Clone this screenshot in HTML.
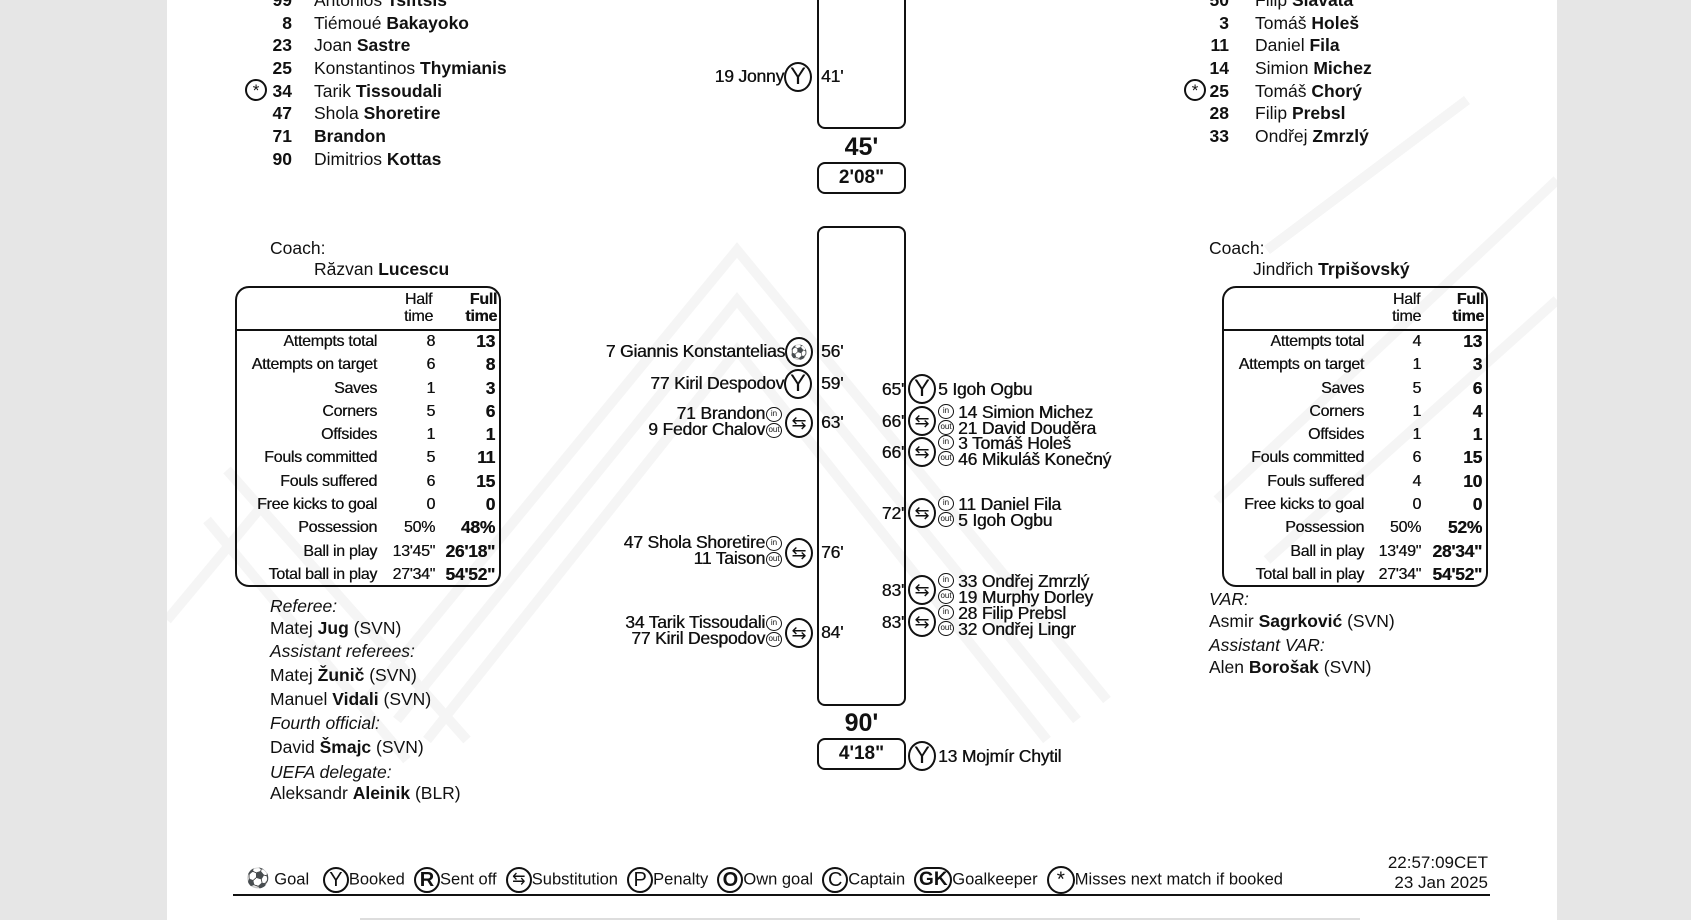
<!DOCTYPE html>
<html><head><meta charset="utf-8"><style>
*{margin:0;padding:0;box-sizing:border-box}
body{width:1691px;height:920px;background:#e6e6e6;position:relative;overflow:hidden;font-family:"Liberation Sans",sans-serif;color:#111}
#pg{position:absolute;left:167px;top:0;width:1390px;height:920px;background:#fff;overflow:hidden}
.t{position:absolute;white-space:nowrap;line-height:20px;font-size:17.5px}
.r{text-align:right}
b{font-weight:bold}
.box{position:absolute;border:2px solid #111;border-radius:8px}
.ic{position:absolute;border:2px solid #111;border-radius:50%;text-align:center;font-weight:normal;background:#fff}
.y{width:28px;height:30px;font-size:24px;line-height:26px}
.io{position:absolute;width:16px;height:15px;border:1.5px solid #111;border-radius:50%;font-size:8px;line-height:12px;text-align:center;background:#fff}
.ev{font-size:17.5px;line-height:17px;text-shadow:0.4px 0 0 #111;letter-spacing:-0.2px}
.tb{position:absolute;border:2px solid #111;border-radius:14px}
.st{position:absolute;font-size:16px;line-height:20px;white-space:nowrap;text-align:right;letter-spacing:-0.3px;text-shadow:0.3px 0 0 #111}
</style></head><body>
<div id="pg">
<svg width="1390" height="920" style="position:absolute;left:0;top:0" fill="none" stroke="#f5f5f5" stroke-width="10">
<polyline points="200,700 570,250 940,700"/><polyline points="230,720 570,300 910,720"/><polyline points="260,740 570,350 880,740"/>
<polyline points="100,500 0,620"/><polyline points="1100,250 1300,100"/><polyline points="1050,500 1390,180"/><polyline points="1100,560 1390,300"/>
<polyline points="60,470 300,740"/><polyline points="40,520 240,760"/>
</svg>
</div>
<div id="L" style="position:absolute;left:0;top:0;width:1691px;height:920px">
<div class="t r" style="left:250px;top:-10px;width:42px"><b>99</b></div><div class="t" style="left:314px;top:-10px">Antonios <b>Tsiftsis</b></div>
<div class="t r" style="left:250px;top:13px;width:42px"><b>8</b></div><div class="t" style="left:314px;top:13px">Tiémoué <b>Bakayoko</b></div>
<div class="t r" style="left:250px;top:35px;width:42px"><b>23</b></div><div class="t" style="left:314px;top:35px">Joan <b>Sastre</b></div>
<div class="t r" style="left:250px;top:58px;width:42px"><b>25</b></div><div class="t" style="left:314px;top:58px">Konstantinos <b>Thymianis</b></div>
<div class="ic" style="left:245px;top:79px;width:22px;height:22px;font-size:17px;line-height:20px">*</div>
<div class="t r" style="left:250px;top:81px;width:42px"><b>34</b></div><div class="t" style="left:314px;top:81px">Tarik <b>Tissoudali</b></div>
<div class="t r" style="left:250px;top:103px;width:42px"><b>47</b></div><div class="t" style="left:314px;top:103px">Shola <b>Shoretire</b></div>
<div class="t r" style="left:250px;top:126px;width:42px"><b>71</b></div><div class="t" style="left:314px;top:126px"><b>Brandon</b></div>
<div class="t r" style="left:250px;top:149px;width:42px"><b>90</b></div><div class="t" style="left:314px;top:149px">Dimitrios <b>Kottas</b></div>
<div class="t" style="left:270px;top:238px">Coach:</div>
<div class="t" style="left:314px;top:259px">Răzvan <b>Lucescu</b></div>
<div class="t r" style="left:1187px;top:-10px;width:42px"><b>50</b></div><div class="t" style="left:1255px;top:-10px">Filip <b>Slavata</b></div>
<div class="t r" style="left:1187px;top:13px;width:42px"><b>3</b></div><div class="t" style="left:1255px;top:13px">Tomáš <b>Holeš</b></div>
<div class="t r" style="left:1187px;top:35px;width:42px"><b>11</b></div><div class="t" style="left:1255px;top:35px">Daniel <b>Fila</b></div>
<div class="t r" style="left:1187px;top:58px;width:42px"><b>14</b></div><div class="t" style="left:1255px;top:58px">Simion <b>Michez</b></div>
<div class="ic" style="left:1184px;top:79px;width:22px;height:22px;font-size:17px;line-height:20px">*</div>
<div class="t r" style="left:1187px;top:81px;width:42px"><b>25</b></div><div class="t" style="left:1255px;top:81px">Tomáš <b>Chorý</b></div>
<div class="t r" style="left:1187px;top:103px;width:42px"><b>28</b></div><div class="t" style="left:1255px;top:103px">Filip <b>Prebsl</b></div>
<div class="t r" style="left:1187px;top:126px;width:42px"><b>33</b></div><div class="t" style="left:1255px;top:126px">Ondřej <b>Zmrzlý</b></div>
<div class="t" style="left:1209px;top:238px">Coach:</div>
<div class="t" style="left:1253px;top:259px">Jindřich <b>Trpišovský</b></div>

<div class="box" style="left:817px;top:-20px;width:89px;height:149px"></div>
<div class="t" style="left:817px;top:134px;width:89px;text-align:center;font-size:25px;line-height:26px;font-weight:bold">45'</div>
<div class="box" style="left:817px;top:162px;width:89px;height:32px;font-size:19px;font-weight:bold;text-align:center;line-height:28px">2'08"</div>
<div class="box" style="left:817px;top:226px;width:89px;height:480px"></div>
<div class="t" style="left:817px;top:710px;width:89px;text-align:center;font-size:25px;line-height:26px;font-weight:bold">90'</div>
<div class="box" style="left:817px;top:738px;width:89px;height:32px;font-size:19px;font-weight:bold;text-align:center;line-height:28px">4'18"</div>

<div class="t r ev" style="right:907px;top:68px">19 Jonny</div><div class="ic y" style="left:784px;top:62px">Y</div><div class="t ev" style="left:821px;top:68px">41'</div>
<div class="t r ev" style="right:906px;top:343px">7 Giannis Konstantelias</div><div class="ic y" style="left:785px;top:337px;font-size:14px">⚽</div><div class="t ev" style="left:821px;top:343px">56'</div>
<div class="t r ev" style="right:907px;top:375px">77 Kiril Despodov</div><div class="ic y" style="left:784px;top:369px">Y</div><div class="t ev" style="left:821px;top:375px">59'</div>

<div class="t r ev" style="right:926px;top:405px;line-height:16px">71 Brandon<br>9 Fedor Chalov</div><div class="io" style="left:766px;top:407px">in</div><div class="io" style="left:766px;top:423px">out</div><div class="ic y" style="left:785px;top:408px;font-size:18px">⇆</div><div class="t ev" style="left:821px;top:414px">63'</div>
<div class="t r ev" style="right:926px;top:534px;line-height:16px">47 Shola Shoretire<br>11 Taison</div><div class="io" style="left:766px;top:536px">in</div><div class="io" style="left:766px;top:552px">out</div><div class="ic y" style="left:785px;top:538px;font-size:18px">⇆</div><div class="t ev" style="left:821px;top:544px">76'</div>
<div class="t r ev" style="right:926px;top:614px;line-height:16px">34 Tarik Tissoudali<br>77 Kiril Despodov</div><div class="io" style="left:766px;top:616px">in</div><div class="io" style="left:766px;top:632px">out</div><div class="ic y" style="left:785px;top:618px;font-size:18px">⇆</div><div class="t ev" style="left:821px;top:624px">84'</div>

<div class="t ev r" style="left:872px;width:32px;top:381px">65'</div><div class="ic y" style="left:908px;top:374px">Y</div><div class="t ev" style="left:938px;top:381px">5 Igoh Ogbu</div>
<div class="t ev r" style="left:872px;width:32px;top:413px">66'</div><div class="ic y" style="left:908px;top:406px;font-size:18px">⇆</div><div class="io" style="left:938px;top:404px">in</div><div class="io" style="left:938px;top:420px">out</div><div class="t ev" style="left:958px;top:404px;line-height:16px">14 Simion Michez<br>21 David Douděra</div>
<div class="t ev r" style="left:872px;width:32px;top:444px">66'</div><div class="ic y" style="left:908px;top:437px;font-size:18px">⇆</div><div class="io" style="left:938px;top:435px">in</div><div class="io" style="left:938px;top:451px">out</div><div class="t ev" style="left:958px;top:435px;line-height:16px">3 Tomáš Holeš<br>46 Mikuláš Konečný</div>
<div class="t ev r" style="left:872px;width:32px;top:505px">72'</div><div class="ic y" style="left:908px;top:498px;font-size:18px">⇆</div><div class="io" style="left:938px;top:496px">in</div><div class="io" style="left:938px;top:512px">out</div><div class="t ev" style="left:958px;top:496px;line-height:16px">11 Daniel Fila<br>5 Igoh Ogbu</div>
<div class="t ev r" style="left:872px;width:32px;top:582px">83'</div><div class="ic y" style="left:908px;top:575px;font-size:18px">⇆</div><div class="io" style="left:938px;top:573px">in</div><div class="io" style="left:938px;top:589px">out</div><div class="t ev" style="left:958px;top:573px;line-height:16px">33 Ondřej Zmrzlý<br>19 Murphy Dorley</div>
<div class="t ev r" style="left:872px;width:32px;top:614px">83'</div><div class="ic y" style="left:908px;top:607px;font-size:18px">⇆</div><div class="io" style="left:938px;top:605px">in</div><div class="io" style="left:938px;top:621px">out</div><div class="t ev" style="left:958px;top:605px;line-height:16px">28 Filip Prebsl<br>32 Ondřej Lingr</div>
<div class="ic y" style="left:908px;top:741px">Y</div><div class="t ev" style="left:938px;top:748px">13 Mojmír Chytil</div>

<div class="tb" style="left:235px;top:286px;width:266px;height:301px"></div>
<div style="position:absolute;left:236px;top:329px;width:264px;border-top:2.5px solid #111"></div>
<div class="st" style="left:400px;top:291px;width:37px;line-height:17px;text-align:center">Half<br>time</div>
<div class="st" style="left:453px;top:291px;width:44px;line-height:17px;font-weight:bold">Full<br>time</div>
<div class="tb" style="left:1222px;top:286px;width:266px;height:301px"></div>
<div style="position:absolute;left:1223px;top:329px;width:264px;border-top:2.5px solid #111"></div>
<div class="st" style="left:1388px;top:291px;width:37px;line-height:17px;text-align:center">Half<br>time</div>
<div class="st" style="left:1440px;top:291px;width:44px;line-height:17px;font-weight:bold">Full<br>time</div>

<div class="st" style="left:230px;top:330px;width:147px;line-height:23.3px">Attempts total<br>Attempts on target<br>Saves<br>Corners<br>Offsides<br>Fouls committed<br>Fouls suffered<br>Free kicks to goal<br>Possession<br>Ball in play<br>Total ball in play</div>
<div class="st" style="left:380px;top:330px;width:55px;line-height:23.3px">8<br>6<br>1<br>5<br>1<br>5<br>6<br>0<br>50%<br>13'45"<br>27'34"</div>
<div class="st" style="left:437px;top:330px;width:58px;line-height:23.3px;font-weight:bold;font-size:17.5px">13<br>8<br>3<br>6<br>1<br>11<br>15<br>0<br>48%<br>26'18"<br>54'52"</div>

<div class="st" style="left:1217px;top:330px;width:147px;line-height:23.3px">Attempts total<br>Attempts on target<br>Saves<br>Corners<br>Offsides<br>Fouls committed<br>Fouls suffered<br>Free kicks to goal<br>Possession<br>Ball in play<br>Total ball in play</div>
<div class="st" style="left:1366px;top:330px;width:55px;line-height:23.3px">4<br>1<br>5<br>1<br>1<br>6<br>4<br>0<br>50%<br>13'49"<br>27'34"</div>
<div class="st" style="left:1424px;top:330px;width:58px;line-height:23.3px;font-weight:bold;font-size:17.5px">13<br>3<br>6<br>4<br>1<br>15<br>10<br>0<br>52%<br>28'34"<br>54'52"</div>

<div class="t" style="left:270px;top:596px"><i>Referee:</i></div>
<div class="t" style="left:270px;top:618px">Matej <b>Jug</b> (SVN)</div>
<div class="t" style="left:270px;top:641px"><i>Assistant referees:</i></div>
<div class="t" style="left:270px;top:665px">Matej <b>Žunič</b> (SVN)</div>
<div class="t" style="left:270px;top:689px">Manuel <b>Vidali</b> (SVN)</div>
<div class="t" style="left:270px;top:713px"><i>Fourth official:</i></div>
<div class="t" style="left:270px;top:737px">David <b>Šmajc</b> (SVN)</div>
<div class="t" style="left:270px;top:762px"><i>UEFA delegate:</i></div>
<div class="t" style="left:270px;top:783px">Aleksandr <b>Aleinik</b> (BLR)</div>
<div class="t" style="left:1209px;top:589px"><i>VAR:</i></div>
<div class="t" style="left:1209px;top:611px">Asmir <b>Sagrković</b> (SVN)</div>
<div class="t" style="left:1209px;top:635px"><i>Assistant VAR:</i></div>
<div class="t" style="left:1209px;top:657px">Alen <b>Borošak</b> (SVN)</div>

<div class="t" style="left:246px;top:866px;font-size:16.5px;line-height:22px">
<span style="font-size:19px">⚽</span> Goal &nbsp;&nbsp;<span style="display:inline-block;width:26px;height:26px;border:2px solid #111;border-radius:50%;text-align:center;line-height:22px;font-size:20px;vertical-align:middle">Y</span>Booked &nbsp;<span style="display:inline-block;width:26px;height:26px;border:2px solid #111;border-radius:50%;text-align:center;line-height:22px;font-size:20px;font-weight:bold;vertical-align:middle">R</span>Sent off &nbsp;<span style="display:inline-block;width:26px;height:26px;border:2px solid #111;border-radius:50%;text-align:center;line-height:22px;font-size:16px;vertical-align:middle">⇆</span>Substitution &nbsp;<span style="display:inline-block;width:26px;height:26px;border:2px solid #111;border-radius:50%;text-align:center;line-height:22px;font-size:20px;vertical-align:middle">P</span>Penalty &nbsp;<span style="display:inline-block;width:26px;height:26px;border:2px solid #111;border-radius:50%;text-align:center;line-height:22px;font-size:20px;font-weight:bold;vertical-align:middle">O</span>Own goal &nbsp;<span style="display:inline-block;width:26px;height:26px;border:2px solid #111;border-radius:50%;text-align:center;line-height:22px;font-size:20px;vertical-align:middle">C</span>Captain &nbsp;<span style="display:inline-block;width:38px;height:26px;border:2px solid #111;border-radius:13px;text-align:center;line-height:22px;font-size:19px;font-weight:bold;vertical-align:middle">GK</span>Goalkeeper &nbsp;<span style="display:inline-block;width:28px;height:28px;border:2px solid #111;border-radius:50%;text-align:center;line-height:24px;font-size:21px;vertical-align:middle">*</span>Misses next match if booked</div>
<div class="t r" style="left:1340px;width:148px;top:853px;font-size:17px">22:57:09CET</div>
<div class="t r" style="left:1340px;width:148px;top:873px;font-size:17px">23 Jan 2025</div>
<div style="position:absolute;left:233px;top:894px;width:1257px;border-top:2px solid #111"></div>
<div style="position:absolute;left:360px;top:918px;width:1000px;height:2px;background:#ddd"></div>
</div>
</body></html>
